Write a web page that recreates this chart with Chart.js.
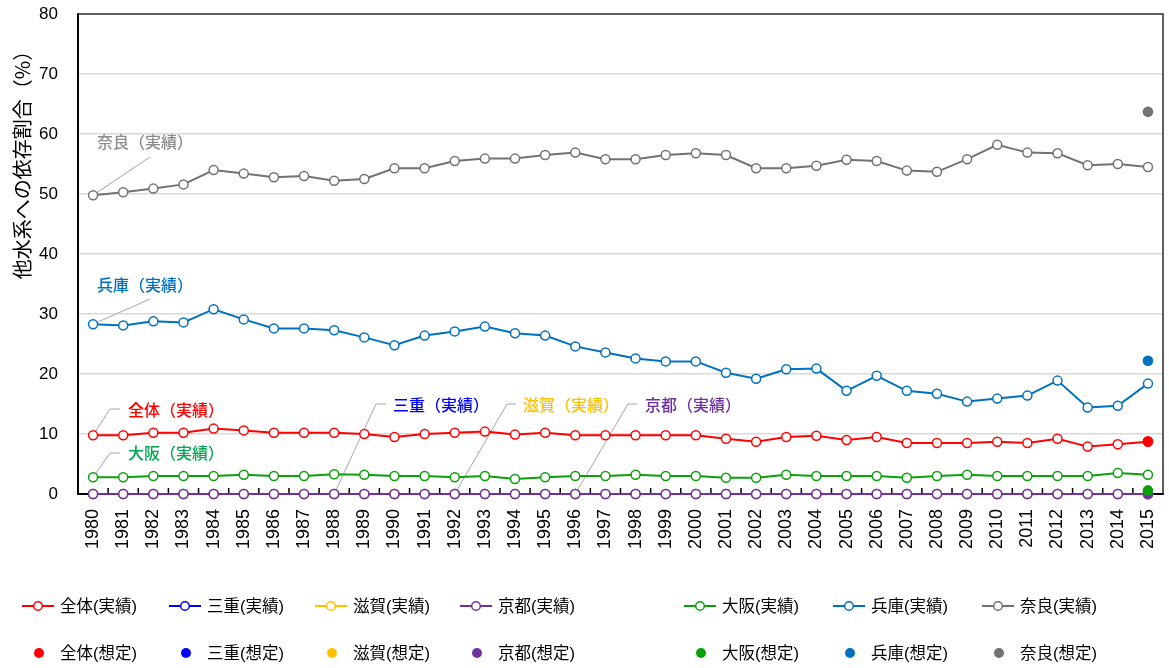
<!DOCTYPE html>
<html lang="ja">
<head>
<meta charset="utf-8">
<title>他水系への依存割合</title>
<script src="https://cdn.jsdelivr.net/npm/chart.js@4.4.1/dist/chart.umd.min.js"></script>
<style>
html, body { margin: 0; padding: 0; background: #ffffff; }
#wrap { width: 1169px; height: 668px; position: relative; }
canvas { display: block; }
</style>
</head>
<body>
<div id="wrap"><canvas id="chart" width="1169" height="668"></canvas></div>
<script>
// ---- data ----
const years = ['1980','1981','1982','1983','1984','1985','1986','1987','1988','1989',
               '1990','1991','1992','1993','1994','1995','1996','1997','1998','1999',
               '2000','2001','2002','2003','2004','2005','2006','2007','2008','2009',
               '2010','2011','2012','2013','2014','2015'];

const yTicks = [0, 10, 20, 30, 40, 50, 60, 70, 80];

// 実績 (actual)
const zentaiActual = [9.8, 9.8, 10.2, 10.2, 10.9, 10.6, 10.2, 10.2, 10.2, 10.0,
                      9.5, 10.0, 10.2, 10.4, 9.9, 10.2, 9.8, 9.8, 9.8, 9.8,
                      9.8, 9.2, 8.7, 9.5, 9.7, 9.0, 9.5, 8.5, 8.5, 8.5,
                      8.7, 8.5, 9.2, 7.9, 8.3, 8.7];
const mieActual    = [0, 0, 0, 0, 0, 0, 0, 0, 0, 0, 0, 0, 0, 0, 0, 0, 0, 0,
                      0, 0, 0, 0, 0, 0, 0, 0, 0, 0, 0, 0, 0, 0, 0, 0, 0, 0];
const shigaActual  = [0, 0, 0, 0, 0, 0, 0, 0, 0, 0, 0, 0, 0, 0, 0, 0, 0, 0,
                      0, 0, 0, 0, 0, 0, 0, 0, 0, 0, 0, 0, 0, 0, 0, 0, 0, 0];
const kyotoActual  = [0, 0, 0, 0, 0, 0, 0, 0, 0, 0, 0, 0, 0, 0, 0, 0, 0, 0,
                      0, 0, 0, 0, 0, 0, 0, 0, 0, 0, 0, 0, 0, 0, 0, 0, 0, 0];
const osakaActual  = [2.8, 2.8, 3.0, 3.0, 3.0, 3.2, 3.0, 3.0, 3.3, 3.2,
                      3.0, 3.0, 2.8, 3.0, 2.5, 2.8, 3.0, 3.0, 3.2, 3.0,
                      3.0, 2.7, 2.7, 3.2, 3.0, 3.0, 3.0, 2.7, 3.0, 3.2,
                      3.0, 3.0, 3.0, 3.0, 3.5, 3.2];
const hyogoActual  = [28.3, 28.1, 28.8, 28.6, 30.8, 29.1, 27.6, 27.6, 27.3, 26.1,
                      24.8, 26.4, 27.1, 27.9, 26.8, 26.4, 24.6, 23.6, 22.6, 22.1,
                      22.1, 20.2, 19.2, 20.8, 20.9, 17.2, 19.7, 17.2, 16.7, 15.4,
                      15.9, 16.4, 18.9, 14.4, 14.7, 18.4];
const naraActual   = [49.8, 50.3, 50.9, 51.6, 54.0, 53.4, 52.8, 53.0, 52.2, 52.5,
                      54.3, 54.3, 55.5, 55.9, 55.9, 56.5, 56.9, 55.8, 55.8, 56.5,
                      56.8, 56.5, 54.3, 54.3, 54.7, 55.7, 55.5, 53.9, 53.7, 55.8,
                      58.2, 56.9, 56.8, 54.8, 55.0, 54.5];

// 想定 (assumed, 2015 only)
const assumedYear = '2015';
const zentaiAssumed = 8.8;
const mieAssumed    = 0;
const shigaAssumed  = 0;
const kyotoAssumed  = 0;
const osakaAssumed  = 0.6;
const hyogoAssumed  = 22.2;
const naraAssumed   = 63.7;

const regions = ['全体', '三重', '滋賀', '京都', '大阪', '兵庫', '奈良'];

// ---- styling ----
const colors = {
  '全体': '#FF0000',
  '三重': '#0000FF',
  '滋賀': '#FFC000',
  '京都': '#7030A0',
  '大阪': '#0AA00A',
  '兵庫': '#0070C0',
  '奈良': '#767171'
};
const calloutTextColors = {
  '全体': '#FF0000',
  '三重': '#0000FF',
  '滋賀': '#FFC000',
  '京都': '#7030A0',
  '大阪': '#00A650',
  '兵庫': '#0070C0',
  '奈良': '#8C8C8C'
};
// draw order: lower value is painted on top
const actualOrder  = { '全体': 10, '三重': 14, '滋賀': 13, '京都': 12, '大阪': 11, '兵庫': 10, '奈良': 10 };
const assumedOrder = { '全体': 0, '三重': 4, '滋賀': 3, '京都': 2, '大阪': 1, '兵庫': 0, '奈良': 0 };

const actualSeries  = [zentaiActual, mieActual, shigaActual, kyotoActual, osakaActual, hyogoActual, naraActual];
const assumedValues = [zentaiAssumed, mieAssumed, shigaAssumed, kyotoAssumed, osakaAssumed, hyogoAssumed, naraAssumed];

const CJK = "'Noto Sans CJK JP', sans-serif";
const LATIN = "'Liberation Sans', 'Noto Sans CJK JP', sans-serif";

const datasets = [];
regions.forEach((r, i) => {
  datasets.push({
    label: r + '(実績)',
    data: actualSeries[i],
    borderColor: colors[r],
    backgroundColor: '#FFFFFF',
    borderWidth: 2,
    pointRadius: 4.5,
    pointBorderWidth: 1.5,
    pointBackgroundColor: '#FFFFFF',
    pointBorderColor: colors[r],
    tension: 0,
    clip: false,
    order: actualOrder[r]
  });
});
regions.forEach((r, i) => {
  datasets.push({
    label: r + '(想定)',
    data: years.map(y => (y === assumedYear ? assumedValues[i] : null)),
    borderColor: colors[r],
    backgroundColor: colors[r],
    showLine: false,
    pointRadius: 5.3,
    pointBorderWidth: 0,
    pointBackgroundColor: colors[r],
    clip: false,
    order: assumedOrder[r]
  });
});

// callout labels with leader lines, anchored to a data point of a series
const callouts = [
  { region: '奈良', idx: 0,  path: [[150, 157]],             tx: 97,  ty: 142 },
  { region: '兵庫', idx: 0,  path: [[150, 299]],             tx: 97,  ty: 285 },
  { region: '全体', idx: 0,  path: [[110, 409], [120, 409]], tx: 128, ty: 410 },
  { region: '大阪', idx: 0,  path: [[110, 453], [120, 453]], tx: 128, ty: 453 },
  { region: '三重', idx: 8,  path: [[376, 404], [386, 404]], tx: 393, ty: 405 },
  { region: '滋賀', idx: 12, path: [[507, 404], [516, 404]], tx: 523, ty: 405 },
  { region: '京都', idx: 16, path: [[628, 404], [637, 404]], tx: 645, ty: 405 }
];

const legendCols = [22, 169, 315, 460, 684, 833, 982];
const legendRows = [606, 653];

const decorPlugin = {
  id: 'decor',
  beforeDatasetsDraw(chart) {
    const { ctx, chartArea: a, scales: { x } } = chart;
    ctx.save();
    // top and right frame
    ctx.strokeStyle = '#2b2b2b';
    ctx.lineWidth = 1.5;
    ctx.beginPath();
    ctx.moveTo(a.left, a.top);
    ctx.lineTo(a.right, a.top);
    ctx.lineTo(a.right, a.bottom);
    ctx.stroke();
    // axes
    ctx.strokeStyle = '#000000';
    ctx.lineWidth = 2;
    ctx.beginPath();
    ctx.moveTo(a.left, a.top - 0.75);
    ctx.lineTo(a.left, a.bottom);
    ctx.lineTo(a.right + 0.75, a.bottom);
    ctx.stroke();
    // inward tick marks between categories
    const n = x.ticks.length;
    const step = (a.right - a.left) / n;
    ctx.lineWidth = 1.5;
    ctx.beginPath();
    for (let i = 1; i < n; i++) {
      const px = x.getPixelForValue(i) - step / 2;
      ctx.moveTo(px, a.bottom);
      ctx.lineTo(px, a.bottom - 6);
    }
    ctx.stroke();
    // callouts
    ctx.strokeStyle = '#A6A6A6';
    ctx.lineWidth = 1;
    ctx.font = '500 16px ' + CJK;
    ctx.textBaseline = 'middle';
    ctx.textAlign = 'left';
    callouts.forEach(c => {
      const di = regions.indexOf(c.region);
      const pt = chart.getDatasetMeta(di).data[c.idx];
      ctx.beginPath();
      ctx.moveTo(pt.x, pt.y);
      c.path.forEach(p => ctx.lineTo(p[0], p[1]));
      ctx.stroke();
      ctx.fillStyle = calloutTextColors[c.region];
      ctx.fillText(c.region + '（実績）', c.tx, c.ty);
    });
    ctx.restore();
  },
  afterDraw(chart) {
    const { ctx } = chart;
    ctx.save();
    // y axis title
    ctx.translate(22, 160);
    ctx.rotate(-Math.PI / 2);
    ctx.font = '20px ' + CJK;
    ctx.fillStyle = '#000000';
    ctx.textAlign = 'center';
    ctx.textBaseline = 'middle';
    ctx.fillText('他水系への依存割合（%）', 0, 0);
    ctx.restore();

    // legend
    ctx.save();
    ctx.font = '16.5px ' + LATIN;
    ctx.textBaseline = 'middle';
    ctx.textAlign = 'left';
    const ds = chart.data.datasets;
    regions.forEach((r, i) => {
      const x0 = legendCols[i];
      const act = ds[i];
      const asm = ds[i + regions.length];
      // row 1: line with open marker
      const y1 = legendRows[0];
      ctx.strokeStyle = act.borderColor;
      ctx.lineWidth = 2;
      ctx.beginPath();
      ctx.moveTo(x0, y1);
      ctx.lineTo(x0 + 32, y1);
      ctx.stroke();
      ctx.beginPath();
      ctx.arc(x0 + 16, y1, 4.3, 0, Math.PI * 2);
      ctx.fillStyle = '#FFFFFF';
      ctx.fill();
      ctx.lineWidth = 1.5;
      ctx.stroke();
      ctx.fillStyle = '#000000';
      ctx.fillText(act.label, x0 + 38, y1 + 1);
      // row 2: filled marker
      const y2 = legendRows[1];
      ctx.beginPath();
      ctx.arc(x0 + 17, y2, 5, 0, Math.PI * 2);
      ctx.fillStyle = asm.backgroundColor;
      ctx.fill();
      ctx.fillStyle = '#000000';
      ctx.fillText(asm.label, x0 + 38, y2 + 1);
    });
    ctx.restore();
  }
};

new Chart(document.getElementById('chart'), {
  type: 'line',
  data: { labels: years, datasets: datasets },
  options: {
    responsive: false,
    animation: false,
    events: [],
    layout: { padding: { top: 14, right: 1, left: 0, bottom: 0 } },
    plugins: {
      legend: { display: false },
      tooltip: { enabled: false },
      title: { display: false }
    },
    scales: {
      x: {
        type: 'category',
        offset: true,
        grid: { display: false, drawTicks: false },
        border: { display: false },
        ticks: {
          autoSkip: false,
          minRotation: 90,
          maxRotation: 90,
          padding: 15,
          color: '#000000',
          font: { family: LATIN, size: 18 }
        },
        afterFit(scale) {
          scale.height = 174;
          scale.paddingLeft = 0;
          scale.paddingRight = 0;
        }
      },
      y: {
        min: yTicks[0],
        max: yTicks[yTicks.length - 1],
        afterBuildTicks(scale) { scale.ticks = yTicks.map(v => ({ value: v })); },
        grid: {
          color: ctx => (ctx.tick && (ctx.tick.value === 0 || ctx.tick.value === 80) ? 'rgba(0,0,0,0)' : '#D9D9D9'),
          lineWidth: 1.5,
          drawTicks: false
        },
        border: { display: false },
        ticks: {
          padding: 20,
          color: '#000000',
          font: { family: LATIN, size: 17 }
        },
        afterFit(scale) {
          scale.width = 78;
          scale.paddingTop = 0;
          scale.paddingBottom = 0;
        }
      }
    }
  },
  plugins: [decorPlugin]
});
</script>
</body>
</html>
